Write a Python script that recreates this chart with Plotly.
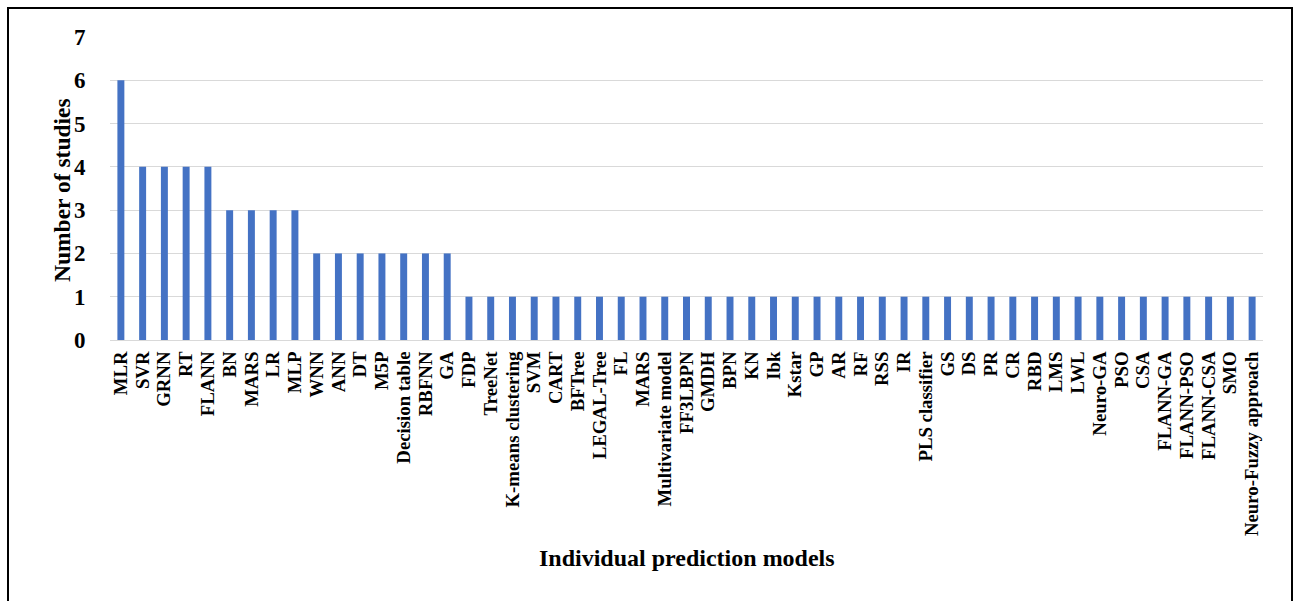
import plotly.graph_objects as go

# Prediction models and how many studies used each one
models = [
    "MLR", "SVR", "GRNN", "RT", "FLANN", "BN", "MARS", "LR", "MLP", "WNN",
    "ANN", "DT", "M5P", "Decision table", "RBFNN", "GA", "FDP", "TreeNet",
    "K-means clustering", "SVM", "CART", "BFTree", "LEGAL-Tree", "FL", "MARS",
    "Multivariate model", "FF3LBPN", "GMDH", "BPN", "KN", "Ibk", "Kstar", "GP",
    "AR", "RF", "RSS", "IR", "PLS classifier", "GS", "DS", "PR", "CR", "RBD",
    "LMS", "LWL", "Neuro-GA", "PSO", "CSA", "FLANN-GA", "FLANN-PSO",
    "FLANN-CSA", "SMO", "Neuro-Fuzzy approach",
]
studies = [6, 4, 4, 4, 4, 3, 3, 3, 3, 2,
           2, 2, 2, 2, 2, 2, 1, 1,
           1, 1, 1, 1, 1, 1, 1,
           1, 1, 1, 1, 1, 1, 1, 1,
           1, 1, 1, 1, 1, 1, 1, 1, 1, 1,
           1, 1, 1, 1, 1, 1, 1,
           1, 1, 1]
y_ticks = [0, 1, 2, 3, 4, 5, 6, 7]

W, H = 1299, 601
L, R, T, B = 110, 36, 37, 261
pw, ph = W - L - R, H - T - B

def px_x(p):
    return (p - L) / pw

def px_y(p):
    return (H - B - p) / ph

positions = list(range(len(models)))
serif = "Liberation Serif, Times New Roman, serif"

fig = go.Figure(go.Bar(
    x=positions, y=studies,
    marker=dict(color="#4472C4", line=dict(width=0)),
))

fig.update_layout(
    width=W, height=H,
    margin=dict(l=L, r=R, t=T, b=B),
    paper_bgcolor="white", plot_bgcolor="white",
    bargap=0.68,
    showlegend=False,
    font=dict(family=serif, color="black"),
    xaxis=dict(
        tickmode="array", tickvals=positions, ticktext=[f"<b>{m}</b>" for m in models],
        tickangle=-90, range=[-0.5, len(models) - 0.5],
        showgrid=False, zeroline=False, showline=False,
        ticks="outside", ticklen=3, tickcolor="rgba(0,0,0,0)",
        tickfont=dict(size=18.8, family=serif, color="black"),
    ),
    yaxis=dict(
        tickmode="array", tickvals=y_ticks, ticktext=[f"<b>{v}</b>" for v in y_ticks],
        range=[0, 7], showgrid=True, gridcolor="#D9D9D9", gridwidth=1,
        zeroline=True, zerolinecolor="#D9D9D9", zerolinewidth=1,
        showline=False, ticks="outside", ticklen=19, tickcolor="rgba(0,0,0,0)",
        tickfont=dict(size=23, family=serif, color="black"),
    ),
    annotations=[
        dict(text="<b>Number of studies</b>", xref="paper", yref="paper",
             x=px_x(62), y=px_y(190), xanchor="center", yanchor="middle",
             textangle=-90, showarrow=False,
             font=dict(size=23.5, family=serif, color="black")),
        dict(text="<b>Individual prediction models</b>", xref="paper", yref="paper",
             x=px_x(687), y=px_y(558), xanchor="center", yanchor="middle",
             showarrow=False,
             font=dict(size=24, family=serif, color="black")),
    ],
    shapes=[
        dict(type="rect", xref="paper", yref="paper",
             x0=px_x(8), x1=px_x(1292), y0=px_y(700), y1=px_y(8),
             line=dict(color="black", width=2), fillcolor="rgba(0,0,0,0)", layer="above"),
    ],
)

fig.write_html("out.html")
